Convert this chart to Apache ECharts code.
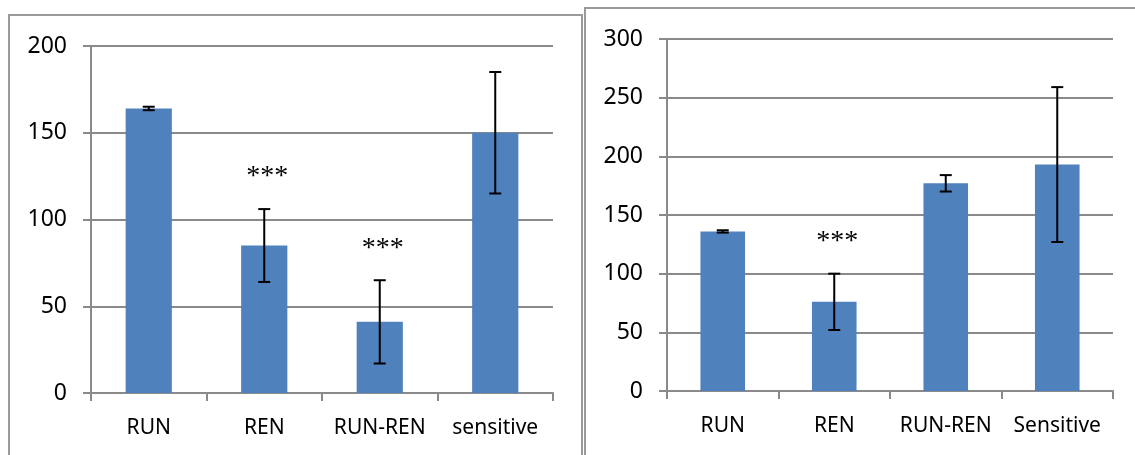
<!DOCTYPE html>
<html>
<head>
<meta charset="utf-8">
<script src="https://cdn.jsdelivr.net/npm/echarts@6/dist/echarts.min.js"></script>
<style>
html,body{margin:0;padding:0;background:#fff;}
#chart{width:1135px;height:455px;}
</style>
</head>
<body>
<div id="chart"></div>
<script>
// ---- data ----
const leftCategories = ['RUN', 'REN', 'RUN-REN', 'sensitive'];
const leftValues = [164, 85, 41, 150];
const leftErrors = [1, 21, 24, 35];
const leftStars = ['', '***', '***', ''];
const leftTicks = [0, 50, 100, 150, 200];

const rightCategories = ['RUN', 'REN', 'RUN-REN', 'Sensitive'];
const rightValues = [136, 76, 177, 193];
const rightErrors = [1, 24, 7, 66];
const rightStars = ['', '***', '', ''];
const rightTicks = [0, 50, 100, 150, 200, 250, 300];

// ---- styles ----
const GRID_COLOR = '#8a8a8a';
const BAR_COLOR = '#4F81BD';
const FONT = '"Noto Sans", "Open Sans", sans-serif';

function yAxisFor(gridIndex, ticks) {
  return {
    type: 'value', gridIndex: gridIndex,
    min: ticks[0], max: ticks[ticks.length - 1], interval: ticks[1] - ticks[0],
    axisLine: {show: true, lineStyle: {color: GRID_COLOR, width: 2}},
    axisTick: {show: true, inside: false, length: 8, lineStyle: {color: GRID_COLOR, width: 2}},
    splitLine: {show: true, lineStyle: {color: GRID_COLOR, width: 2}},
    axisLabel: {margin: 24, color: '#000', fontSize: 23, fontFamily: FONT}
  };
}
function xAxisFor(gridIndex, cats) {
  return {
    type: 'category', gridIndex: gridIndex, data: cats,
    axisLine: {show: true, lineStyle: {color: GRID_COLOR, width: 2}},
    axisTick: {show: true, length: 8, alignWithLabel: false, lineStyle: {color: GRID_COLOR, width: 2}},
    axisLabel: {margin: 25, color: '#000', fontSize: 21, fontFamily: FONT, interval: 0}
  };
}
function errorSeries(idx, values, errors, stars) {
  return {
    type: 'custom', xAxisIndex: idx, yAxisIndex: idx, z: 10,
    data: values.map((v, i) => [i, v - errors[i], v + errors[i], stars[i]]),
    renderItem: function (params, api) {
      const i = api.value(0);
      const lo = api.coord([i, api.value(1)]);
      const hi = api.coord([i, api.value(2)]);
      const hw = 6;
      const style = {stroke: '#000', lineWidth: 2};
      const children = [
        {type: 'line', shape: {x1: hi[0], y1: hi[1], x2: lo[0], y2: lo[1]}, style: style},
        {type: 'line', shape: {x1: hi[0] - hw, y1: hi[1], x2: hi[0] + hw, y2: hi[1]}, style: style},
        {type: 'line', shape: {x1: lo[0] - hw, y1: lo[1], x2: lo[0] + hw, y2: lo[1]}, style: style}
      ];
      const s = stars[params.dataIndex];
      if (s) {
        children.push({
          type: 'text', x: hi[0] + 3, y: hi[1] - 32,
          style: {text: s, fill: '#000', font: '28px "Liberation Serif", "DejaVu Serif", serif',
            align: 'center', verticalAlign: 'middle'}
        });
      }
      return {type: 'group', children: children};
    }
  };
}

const chart = echarts.init(document.getElementById('chart'), null, {renderer: 'canvas'});
chart.setOption({
  animation: false,
  backgroundColor: '#fff',
  graphic: [
    {type: 'rect', shape: {x: 9, y: 15, width: 573, height: 480}, style: {fill: null, stroke: '#9a9a9a', lineWidth: 2}, z: -1},
    {type: 'rect', shape: {x: 585, y: 8, width: 560, height: 480}, style: {fill: null, stroke: '#9a9a9a', lineWidth: 2}, z: -1}
  ],
  grid: [
    {left: 91, top: 46, width: 462, height: 347},
    {left: 667, top: 39, width: 446, height: 352}
  ],
  xAxis: [xAxisFor(0, leftCategories), xAxisFor(1, rightCategories)],
  yAxis: [yAxisFor(0, leftTicks), yAxisFor(1, rightTicks)],
  series: [
    {type: 'bar', xAxisIndex: 0, yAxisIndex: 0, data: leftValues, barWidth: '40%',
     itemStyle: {color: BAR_COLOR}},
    errorSeries(0, leftValues, leftErrors, leftStars),
    {type: 'bar', xAxisIndex: 1, yAxisIndex: 1, data: rightValues, barWidth: '40%',
     itemStyle: {color: BAR_COLOR}},
    errorSeries(1, rightValues, rightErrors, rightStars)
  ]
});
</script>
</body>
</html>
